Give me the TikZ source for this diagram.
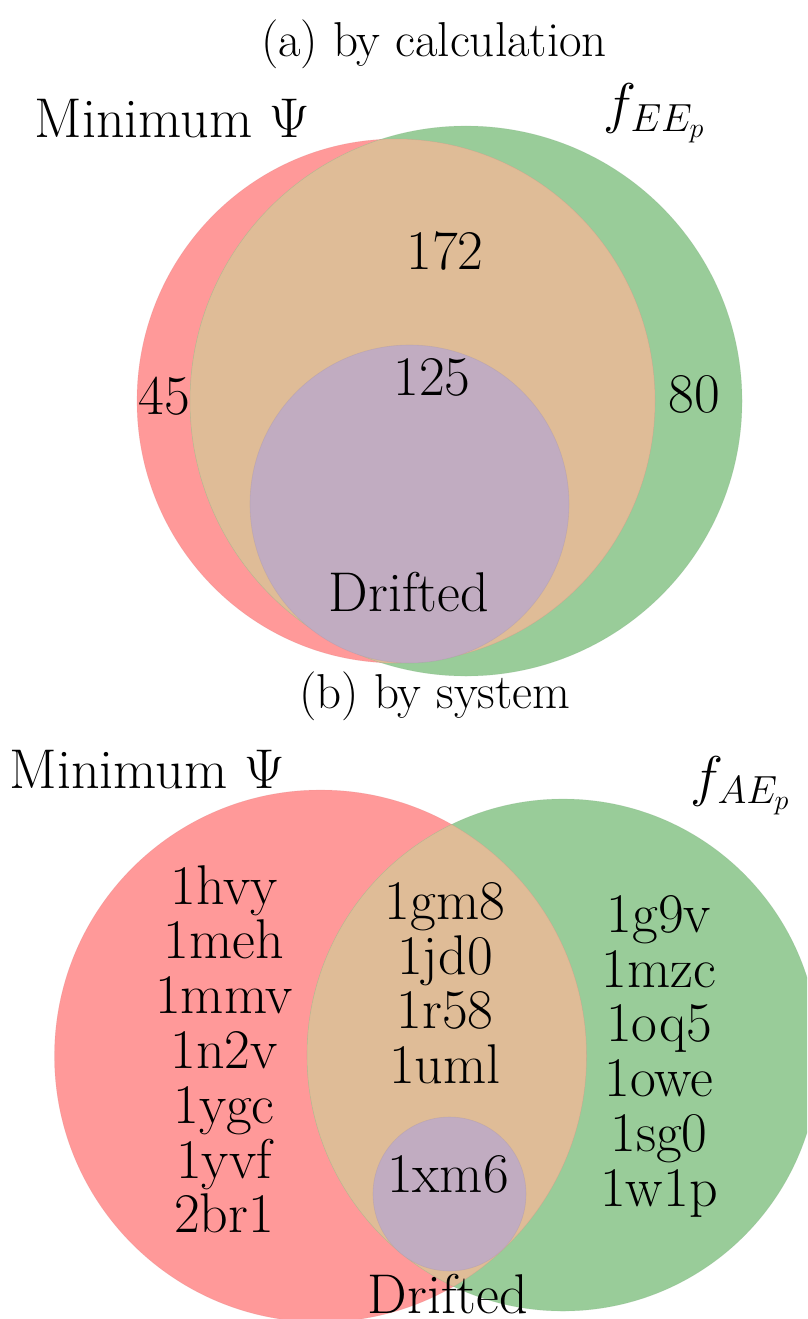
\documentclass[tikz,border=0pt]{standalone}
\usepackage{fix-cm}
\usepackage{fontspec}
\definecolor{vred}{HTML}{FF9999}
\definecolor{vgreen}{HTML}{99CC99}
\definecolor{vorange}{HTML}{DFBC97}
\definecolor{vpurple}{HTML}{C1ACC1}
\tikzset{
  lbl/.style={anchor=base, inner sep=0pt, font=\fontsize{56}{60}\selectfont},
  ttl/.style={anchor=base, inner sep=0pt, font=\fontsize{49}{54}\selectfont},
  lst/.style={inner sep=0pt, align=center, font=\fontsize{56}{54.8}\selectfont},
  rim/.style={draw=#1, line width=0.6pt}
}
\begin{document}
\begin{tikzpicture}[x=1pt,y=-1pt]
\useasboundingbox (0,0) rectangle (807,1319);
\clip (0,0) rectangle (807,1319);
% ---------- (a) ----------
\fill[vred] (396,401) ellipse [x radius=259pt, y radius=262pt];
\fill[vgreen] (466,401) ellipse [x radius=276pt, y radius=275pt];
\begin{scope}
  \clip (396,401) ellipse [x radius=259pt, y radius=262pt];
  \fill[vorange] (466,401) ellipse [x radius=276pt, y radius=275pt];
\end{scope}
\draw[rim=vred!85!black, opacity=0.25] (396,401) ellipse [x radius=259pt, y radius=262pt];
\draw[rim=vgreen!85!black, opacity=0.25] (466,401) ellipse [x radius=276pt, y radius=275pt];
\fill[vpurple] (409.5,504) ellipse [x radius=159.5pt, y radius=159pt];
\draw[rim=vpurple!85!black, opacity=0.3] (409.5,504) ellipse [x radius=159.5pt, y radius=159pt];
\node[ttl] (ta) at (434,57) {(a) by calculation};
\node[lbl] (psia) at (172,137) {Minimum $\Psi$};
\node[lbl] (fa) at (654,123) {$f_{EE_p}$};
\node[lbl] (n172) at (445,269) {172};
\node[lbl] (n125) at (432,395) {125};
\node[lbl] (n45) at (164,414) {45};
\node[lbl] (n80) at (694,412) {80};
\node[lbl] (dra) at (409,611) {Drifted};
% ---------- (b) ----------
\fill[vred] (320.5,1056) ellipse [x radius=266pt, y radius=266pt];
\fill[vgreen] (563,1055) ellipse [x radius=256pt, y radius=256pt];
\begin{scope}
  \clip (320.5,1056) ellipse [x radius=266pt, y radius=266pt];
  \fill[vorange] (563,1055) ellipse [x radius=256pt, y radius=256pt];
\end{scope}
\draw[rim=vred!85!black, opacity=0.25] (320.5,1056) ellipse [x radius=266pt, y radius=266pt];
\draw[rim=vgreen!85!black, opacity=0.25] (563,1055) ellipse [x radius=256pt, y radius=256pt];
\fill[vpurple] (449.5,1194) ellipse [x radius=76.5pt, y radius=77pt];
\draw[rim=vpurple!85!black, opacity=0.3] (449.5,1194) ellipse [x radius=76.5pt, y radius=77pt];
\node[ttl] (tb) at (435,708) {(b) by system};
\node[lbl] (psib) at (147,788) {Minimum $\Psi$};
\node[lbl] (fb) at (740,795) {$f_{AE_p}$};
\node[lst, anchor=north] (lleft) at (224,865) {1hvy\\1meh\\1mmv\\1n2v\\1ygc\\1yvf\\2br1};
\node[lst, anchor=north] (lmid) at (445,882) {1gm8\\1jd0\\1r58\\1uml};
\node[lst, anchor=north] (lright) at (659,895) {1g9v\\1mzc\\1oq5\\1owe\\1sg0\\1w1p};
\node[lbl] (xm6) at (448,1192) {1xm6};
\node[lbl] (drb) at (448,1313) {Drifted};
\end{tikzpicture}
\end{document}
